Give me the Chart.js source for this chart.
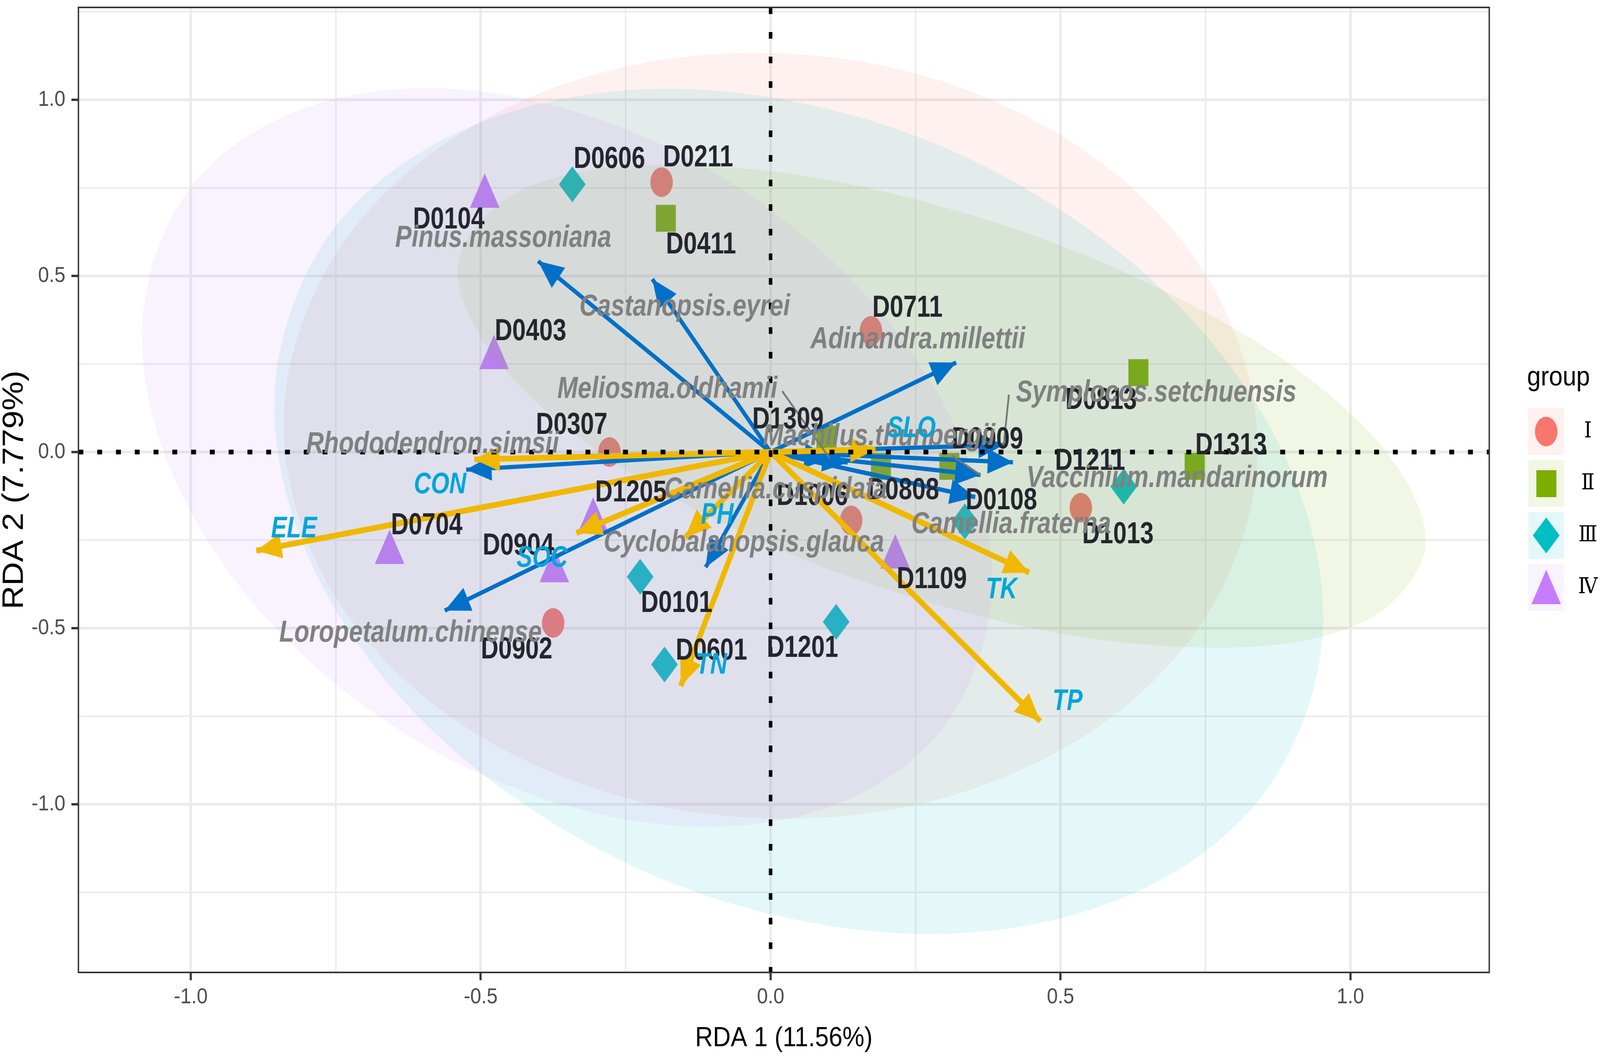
<!DOCTYPE html>
<html>
<head>
<meta charset="utf-8">
<script src="https://cdn.jsdelivr.net/npm/chart.js@4/dist/chart.umd.min.js"></script>
<style>
  html, body { margin: 0; padding: 0; background: #fff; overflow: hidden; }
  canvas { display: block; }
</style>
</head>
<body>
<canvas id="rda-chart" width="4550" height="2704" style="width:100vw;height:100vh"></canvas>
<script>
// sample sites
const groupNames = ['Ⅰ', 'Ⅱ', 'Ⅲ', 'Ⅳ'];
const siteNames = ['D0211', 'D0711', 'D0307', 'D0902', 'D1006', 'D1013',
  'D0411', 'D0813', 'D1313', 'D1309', 'D0808', 'D0909',
  'D0606', 'D0101', 'D0601', 'D1201', 'D1211', 'D0108',
  'D0104', 'D0403', 'D1205', 'D0704', 'D0904', 'D1109'];
const siteGroups = [0, 0, 0, 0, 0, 0, 1, 1, 1, 1, 1, 1, 2, 2, 2, 2, 2, 2, 3, 3, 3, 3, 3, 3];
const siteX = [-0.188, 0.173, -0.278, -0.375, 0.139, 0.535,
  -0.181, 0.634, 0.731, 0.096, 0.19, 0.308,
  -0.342, -0.225, -0.183, 0.113, 0.609, 0.335,
  -0.493, -0.477, -0.306, -0.657, -0.373, 0.215];
const siteY = [0.766, 0.344, 0.0, -0.485, -0.194, -0.158,
  0.664, 0.226, -0.04, 0.037, -0.04, -0.04,
  0.76, -0.354, -0.603, -0.482, -0.098, -0.197,
  0.741, 0.283, -0.178, -0.27, -0.322, -0.283];
const siteLabelX = [-0.125, 0.236, -0.343, -0.438, 0.072, 0.599,
  -0.12, 0.57, 0.794, 0.03, 0.229, 0.374,
  -0.278, -0.162, -0.102, 0.055, 0.551, 0.398,
  -0.555, -0.414, -0.241, -0.593, -0.435, 0.278];
const siteLabelY = [0.834, 0.408, 0.075, -0.562, -0.126, -0.235,
  0.587, 0.146, 0.018, 0.091, -0.11, 0.034,
  0.83, -0.43, -0.565, -0.558, -0.027, -0.139,
  0.658, 0.341, -0.117, -0.21, -0.267, -0.363];

// species arrows
const speciesNames = ['Pinus.massoniana', 'Castanopsis.eyrei', 'Adinandra.millettii', 'Meliosma.oldhamii',
  'Symplocos.setchuensis', 'Rhododendron.simsii', 'Machilus.thunbergii', 'Vaccinium.mandarinorum',
  'Camellia.cuspidata', 'Camellia.fraterna', 'Cyclobalanopsis.glauca', 'Loropetalum.chinense'];
const speciesX = [-0.401, -0.204, 0.32, 0.102, 0.402, -0.525, 0.362, 0.418, 0.133, 0.353, -0.112, -0.562];
const speciesY = [0.542, 0.491, 0.254, -0.018, 0.02, -0.05, -0.065, -0.029, -0.03, -0.128, -0.327, -0.45];
const speciesLabelX = [-0.461, -0.148, 0.254, -0.178, 0.665, -0.583, 0.187, 0.701, 0.009, 0.415, -0.046, -0.621];
const speciesLabelY = [0.606, 0.411, 0.318, 0.178, 0.168, 0.021, 0.043, -0.075, -0.107, -0.206, -0.258, -0.514];

// environment arrows
const envNames = ['SLO', 'CON', 'ELE', 'SOC', 'PH', 'TN', 'TK', 'TP'];
const envX = [0.181, -0.511, -0.887, -0.335, -0.147, -0.155, 0.446, 0.465];
const envY = [0.008, -0.021, -0.28, -0.23, -0.242, -0.664, -0.342, -0.764];
const envLabelX = [0.243, -0.57, -0.822, -0.394, -0.092, -0.102, 0.398, 0.512];
const envLabelY = [0.066, -0.094, -0.219, -0.302, -0.181, -0.606, -0.392, -0.709];

// repel leader lines: from label to arrow tip
const leaderFrom = [[0.02, 0.173], [0.411, 0.163], [0.3125, -0.01]];
const leaderTo = [[0.102, -0.018], [0.402, 0.02], [0.362, -0.065]];

// ellipse outlines, first and last two points overlap so the curve closes smoothly
const ellipseI = [[0.727, -0.525], [0.84, 0.013], [0.727, 0.561], [0.42, 0.97], [0, 1.132], [-0.42, 1.003], [-0.727, 0.617], [-0.84, 0.079],
  [-0.727, -0.469], [-0.42, -0.878], [0, -1.04], [0.42, -0.911], [0.727, -0.525], [0.84, 0.013], [0.727, 0.561]];
const ellipseII = [[1.018, -0.486], [1.13, -0.254], [1.018, 0.081], [0.7125, 0.429], [0.295, 0.697], [-0.1225, 0.813], [-0.428, 0.746], [-0.54, 0.514],
  [-0.428, 0.179], [-0.1225, -0.169], [0.295, -0.437], [0.7125, -0.553], [1.018, -0.486], [1.13, -0.254], [1.018, 0.081]];
const ellipseIII = [[0.832, -1.008], [0.953, -0.468], [0.832, 0.152], [0.501, 0.686], [0.0485, 0.992], [-0.404, 0.986], [-0.735, 0.671], [-0.856, 0.131],
  [-0.735, -0.489], [-0.404, -1.023], [0.0485, -1.329], [0.501, -1.323], [0.832, -1.008], [0.953, -0.468], [0.832, 0.152]];
const ellipseIV = [[0.284, -0.81], [0.382, -0.361], [0.284, 0.179], [0.016, 0.668], [-0.351, 0.973], [-0.718, 1.014], [-0.986, 0.779], [-1.084, 0.33],
  [-0.986, -0.21], [-0.718, -0.699], [-0.351, -1.004], [0.016, -1.045], [0.284, -0.81], [0.382, -0.361], [0.284, 0.179]];

const xMin = -1.1937, xMax = 1.2394, yMin = -1.477, yMax = 1.262;

const groupColors = ['#F8766D', '#7CAE00', '#00BFC4', '#C77CFF'];
const ellipseFills = ['rgba(248,118,109,0.1)', 'rgba(124,174,0,0.1)', 'rgba(0,191,196,0.1)', 'rgba(199,124,255,0.1)'];
const blue = '#0070C8', yellow = '#F0B800';

Chart.defaults.font.family = "'Liberation Sans', Arial, sans-serif";

// the picture is stretched a bit in height, so the markers are drawn on small canvases
const traceMarker = (c, shape, mx, my) => {
  c.beginPath();
  if (shape === 0) {
    c.ellipse(mx, my, 32, 38, 0, 0, Math.PI * 2);
  } else if (shape === 1) {
    c.rect(mx - 28, my - 34, 57, 69);
  } else if (shape === 2) {
    c.moveTo(mx, my - 46); c.lineTo(mx + 38, my); c.lineTo(mx, my + 46); c.lineTo(mx - 38, my);
  } else {
    c.moveTo(mx, my - 45); c.lineTo(mx + 42, my + 43); c.lineTo(mx - 42, my + 43);
  }
  c.closePath();
  c.fill();
};

const makeMarker = (shape) => {
  const cv = document.createElement('canvas');
  cv.width = 100; cv.height = 110;
  const c = cv.getContext('2d');
  c.fillStyle = groupColors[shape];
  traceMarker(c, shape, 50, 55);
  return cv;
};

const makeLegendKey = (shape) => {
  const cv = document.createElement('canvas');
  cv.width = 101; cv.height = 120;
  const c = cv.getContext('2d');
  c.fillStyle = ellipseFills[shape];
  c.fillRect(0, 0, 101, 120);
  c.fillStyle = groupColors[shape];
  traceMarker(c, shape, 51, 60);
  return cv;
};

// arrow head with its tip on the canvas centre, pointing up
const makeHead = (color) => {
  const cv = document.createElement('canvas');
  cv.width = 170; cv.height = 170;
  const c = cv.getContext('2d');
  c.fillStyle = color;
  c.beginPath();
  c.moveTo(85, 85); c.lineTo(117, 157); c.lineTo(53, 157);
  c.closePath();
  c.fill();
  return cv;
};

const blueHead = makeHead(blue);
const yellowHead = makeHead(yellow);

const arrowDataset = (tipX, tipY, color, head, width, order) => ({
  data: [{x: 0, y: 0}, {x: tipX, y: tipY}],
  showLine: true,
  borderColor: color,
  backgroundColor: color,
  borderWidth: width,
  order: order,
  pointStyle: head,
  pointRadius: (ctx) => ctx.dataIndex === 1 ? 1 : 0,
  pointRotation: (ctx) => {
    const {x, y} = ctx.chart.scales;
    const dx = x.getPixelForValue(tipX) - x.getPixelForValue(0);
    const dy = y.getPixelForValue(tipY) - y.getPixelForValue(0);
    return Math.atan2(dx, -dy) * 180 / Math.PI;
  }
});

const datasets = [];

groupNames.forEach((g, i) => {
  datasets.push({
    data: siteX.map((x, k) => ({x: x, y: siteY[k], g: siteGroups[k]})).filter((p) => p.g === i),
    pointStyle: makeMarker(i),
    pointRadius: 1,
    order: 6
  });
});

[ellipseI, ellipseII, ellipseIII, ellipseIV].forEach((outline, i) => {
  datasets.push({
    data: outline.map((p) => ({x: p[0], y: p[1]})),
    showLine: true,
    fill: 'shape',
    tension: 0.35,
    borderWidth: 0,
    borderColor: 'rgba(0,0,0,0)',
    backgroundColor: ellipseFills[i],
    pointRadius: 0,
    order: 5 - i * 0.1
  });
});

speciesX.forEach((x, i) => datasets.push(arrowDataset(x, speciesY[i], blue, blueHead, 11, 4)));
envX.forEach((x, i) => datasets.push(arrowDataset(x, envY[i], yellow, yellowHead, 15, 3)));

leaderFrom.forEach((p, i) => {
  datasets.push({
    data: [{x: p[0], y: p[1]}, {x: leaderTo[i][0], y: leaderTo[i][1]}],
    showLine: true,
    borderColor: '#777',
    borderWidth: 5,
    pointRadius: 0,
    order: 2
  });
});

// dotted zero lines
datasets.push({
  data: [{x: xMin, y: 0}, {x: xMax, y: 0}],
  showLine: true, borderColor: '#000', borderWidth: 12, borderDash: [14, 39.4], pointRadius: 0, order: 1
});
datasets.push({
  data: [{x: 0, y: yMax}, {x: 0, y: yMin}],
  showLine: true, borderColor: '#000', borderWidth: 10, borderDash: [17, 46], pointRadius: 0, order: 1
});

const drawTexts = (ctx, chart, names, xs, ys, font, color) => {
  const {x, y} = chart.scales;
  ctx.font = font;
  ctx.fillStyle = color;
  ctx.textAlign = 'center';
  ctx.textBaseline = 'middle';
  names.forEach((t, i) => {
    ctx.save();
    ctx.translate(x.getPixelForValue(xs[i]), y.getPixelForValue(ys[i]));
    ctx.scale(1, 1.12);
    ctx.fillText(t, 0, 0);
    ctx.restore();
  });
};

const plotLabels = {
  id: 'plotLabels',
  afterLayout(chart) {
    // legend sits a little away from where the layout puts it
    const legend = chart.legend;
    legend.left = 4269;
    legend.right = 4556;
    legend.width = 326;
    legend.top -= 84;
    legend.bottom -= 84;
  },
  afterDatasetsDraw(chart) {
    const ctx = chart.ctx;
    const a = chart.chartArea;
    ctx.save();
    ctx.strokeStyle = '#333';
    ctx.lineWidth = 4;
    ctx.strokeRect(a.left, a.top, a.right - a.left, a.bottom - a.top);
    drawTexts(ctx, chart, siteNames, siteLabelX, siteLabelY, "bold 69px 'Liberation Sans'", '#25252d');
    drawTexts(ctx, chart, speciesNames, speciesLabelX, speciesLabelY, "italic bold 70px 'Liberation Sans'", '#808080');
    drawTexts(ctx, chart, envNames, envLabelX, envLabelY, "italic bold 67px 'Liberation Sans'", '#00A5DB');
    ctx.restore();
  }
};

const isMajor = (v) => Math.abs(v * 2 - Math.round(v * 2)) < 1e-6;

new Chart(document.getElementById('rda-chart').getContext('2d'), {
  type: 'scatter',
  data: {datasets: datasets},
  plugins: [plotLabels],
  options: {
    responsive: false,
    animation: false,
    devicePixelRatio: 1,
    events: [],
    layout: {padding: {top: 6, right: 43}},
    plugins: {
      tooltip: {enabled: false},
      legend: {
        position: 'right',
        align: 'center',
        title: {display: true, text: 'group', color: '#000', position: 'center', font: {size: 70}, padding: {top: 0, bottom: -17}},
        labels: {
          usePointStyle: true,
          pointStyleWidth: 101,
          padding: 77,
          color: '#000',
          textAlign: 'center',
          font: {size: 56, family: "'DejaVu Serif', serif"},
          generateLabels: () => groupNames.map((g, i) => ({
            text: g, pointStyle: makeLegendKey(i), fontColor: '#000', hidden: false, datasetIndex: i, lineWidth: 0
          }))
        }
      }
    },
    scales: {
      x: {
        type: 'linear',
        min: xMin,
        max: xMax,
        afterFit: (s) => { s.height = 214; s.paddingLeft = 0; s.paddingRight = 0; },
        title: {display: true, text: 'RDA 1 (11.56%)', color: '#000', font: {size: 70}, padding: {top: 0, bottom: 2}},
        border: {display: false},
        grid: {
          color: '#EBEBEB',
          lineWidth: (ctx) => isMajor(ctx.tick.value) ? 7 : 4,
          tickColor: (ctx) => isMajor(ctx.tick.value) ? '#333' : 'rgba(0,0,0,0)',
          tickWidth: 6,
          tickLength: 20
        },
        ticks: {
          stepSize: 0.25,
          includeBounds: false,
          maxRotation: 0,
          autoSkip: false,
          padding: 10,
          color: '#4D4D4D',
          font: {size: 56},
          callback: (v) => isMajor(v) ? v.toFixed(1) : ''
        }
      },
      y: {
        type: 'linear',
        min: yMin,
        max: yMax,
        afterFit: (s) => { s.width = 223; s.paddingTop = 0; s.paddingBottom = 0; },
        title: {display: true, text: 'RDA 2 (7.779%)', color: '#000', font: {size: 84, lineHeight: 1}, padding: {top: 0, bottom: 0}},
        border: {display: false},
        grid: {
          color: '#EBEBEB',
          lineWidth: (ctx) => isMajor(ctx.tick.value) ? 7 : 4,
          tickColor: (ctx) => isMajor(ctx.tick.value) ? '#333' : 'rgba(0,0,0,0)',
          tickWidth: 6,
          tickLength: 20
        },
        ticks: {
          stepSize: 0.25,
          includeBounds: false,
          autoSkip: false,
          padding: 17,
          color: '#4D4D4D',
          font: {size: 56},
          callback: (v) => isMajor(v) ? v.toFixed(1) : ''
        }
      }
    }
  }
});
</script>
</body>
</html>
